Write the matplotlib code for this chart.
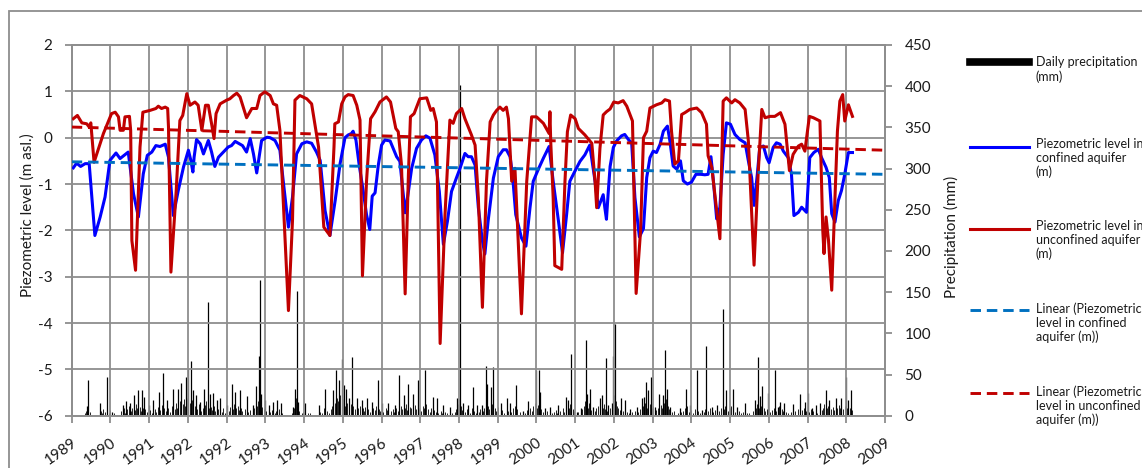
import numpy as np
import matplotlib.pyplot as plt
from matplotlib.lines import Line2D
from matplotlib.patches import Rectangle

plt.rcParams['font.family'] = ['Lato', 'DejaVu Sans']
plt.rcParams['axes.unicode_minus'] = False

# ---- data (decimal years on the chart's time axis) ----
x_labels = ['1989', '1990', '1991', '1992', '1992', '1993', '1994', '1995', '1996', '1997', '1998',
            '1999', '2000', '2001', '2002', '2003', '2004', '2005', '2006', '2007', '2008', '2009']

# piezometric level, unconfined aquifer (m asl.)
unconfined = [
    (1989.04, 0.41), (1989.14, 0.48), (1989.25, 0.32), (1989.37, 0.30), (1989.43, 0.23), (1989.47, 0.32),
    (1989.55, -0.53), (1989.78, 0.09), (1989.98, 0.52), (1990.07, 0.55), (1990.15, 0.45), (1990.19, 0.16),
    (1990.27, 0.16), (1990.31, 0.45), (1990.42, 0.46), (1990.45, 0.16), (1990.48, -2.22), (1990.57, -2.86),
    (1990.68, -0.20), (1990.75, 0.55), (1990.93, 0.59), (1991.07, 0.63), (1991.13, 0.68), (1991.21, 0.63),
    (1991.30, 0.66), (1991.36, 0.63), (1991.38, 0.23), (1991.44, -2.90), (1991.57, -1.14), (1991.66, 0.37),
    (1991.73, 0.48), (1991.83, 0.95), (1991.91, 0.70), (1992.03, 0.77), (1992.11, 0.70), (1992.20, 0.16),
    (1992.29, 0.70), (1992.36, 0.70), (1992.44, 0.30), (1992.50, -0.02), (1992.55, 0.52), (1992.65, 0.73),
    (1992.81, 0.81), (1992.89, 0.84), (1992.98, 0.91), (1993.06, 0.96), (1993.14, 0.88), (1993.30, 0.43),
    (1993.43, 0.63), (1993.55, 0.63), (1993.63, 0.91), (1993.75, 0.99), (1993.88, 0.91), (1993.96, 0.73),
    (1994.04, 0.70), (1994.12, 0.16), (1994.25, -2.22), (1994.33, -3.73), (1994.43, -1.78), (1994.49, 0.81),
    (1994.61, 0.91), (1994.78, 0.84), (1994.90, 0.73), (1995.07, -0.20), (1995.20, -1.93), (1995.35, -2.11),
    (1995.45, -0.20), (1995.47, 0.30), (1995.56, 0.34), (1995.64, 0.73), (1995.72, 0.88), (1995.80, 0.93),
    (1995.92, 0.91), (1996.01, 0.70), (1996.09, 0.38), (1996.15, -2.98), (1996.25, -0.94), (1996.35, 0.41),
    (1996.46, 0.56), (1996.58, 0.77), (1996.74, 0.88), (1996.84, 0.77), (1996.97, 0.20), (1997.03, 0.13),
    (1997.11, -0.59), (1997.20, -3.37), (1997.28, -0.80), (1997.33, 0.45), (1997.42, 0.52), (1997.56, 0.84),
    (1997.73, 0.86), (1997.83, 0.59), (1997.89, 0.63), (1997.97, 0.34), (1998.06, -4.44), (1998.18, -1.66),
    (1998.30, 0.38), (1998.38, 0.31), (1998.46, 0.52), (1998.59, 0.63), (1998.67, 0.41), (1998.83, 0.06),
    (1998.92, -0.16), (1999.00, -1.30), (1999.10, -3.66), (1999.20, -0.94), (1999.29, 0.34), (1999.37, 0.49),
    (1999.45, 0.59), (1999.53, 0.66), (1999.61, 0.59), (1999.69, 0.66), (1999.74, 0.41), (1999.82, -0.94),
    (1999.90, -0.66), (2000.06, -3.80), (2000.19, -0.94), (2000.31, 0.45), (2000.43, 0.45), (2000.60, 0.31),
    (2000.74, 0.09), (2000.76, 0.56), (2000.78, -0.09), (2000.84, -1.30), (2000.88, -2.76), (2001.05, -2.84),
    (2001.13, -0.94), (2001.19, 0.13), (2001.27, 0.49), (2001.38, 0.41), (2001.46, 0.20), (2001.62, 0.06),
    (2001.79, -0.12), (2001.87, -0.94), (2001.91, -1.51), (2001.99, -0.23), (2002.07, 0.49), (2002.15, 0.56),
    (2002.24, 0.62), (2002.33, 0.77), (2002.44, 0.75), (2002.56, 0.80), (2002.65, 0.68), (2002.79, 0.36),
    (2002.88, -3.36), (2002.99, -2.00), (2003.06, 0.00), (2003.14, 0.14), (2003.22, 0.64), (2003.38, 0.71),
    (2003.51, 0.75), (2003.59, 0.82), (2003.70, 0.79), (2003.75, 0.14), (2003.83, -0.57), (2003.92, -0.50),
    (2004.00, 0.50), (2004.08, 0.54), (2004.20, 0.61), (2004.37, 0.64), (2004.49, 0.54), (2004.61, 0.29),
    (2004.65, -0.39), (2004.74, -0.64), (2004.94, -2.18), (2005.02, 0.79), (2005.10, 0.86), (2005.23, 0.75),
    (2005.31, 0.82), (2005.43, 0.75), (2005.56, 0.61), (2005.64, -0.07), (2005.78, -2.75), (2005.88, -0.79),
    (2005.97, 0.61), (2006.05, 0.43), (2006.17, 0.46), (2006.29, 0.46), (2006.43, 0.54), (2006.54, 0.29),
    (2006.65, -0.71), (2006.74, -0.36), (2006.87, -0.18), (2006.95, -0.14), (2007.03, -0.29), (2007.14, 0.46),
    (2007.24, 0.43), (2007.40, 0.36), (2007.47, -2.00), (2007.50, -2.50), (2007.55, -1.71), (2007.61, -2.21),
    (2007.69, -3.29), (2007.77, -1.29), (2007.83, 0.14), (2007.89, 0.79), (2007.96, 0.93), (2008.01, 0.36),
    (2008.10, 0.71), (2008.20, 0.46),
]

# piezometric level, confined aquifer (m asl.)
confined = [
    (1989.04, -0.65), (1989.12, -0.55), (1989.22, -0.62), (1989.33, -0.56), (1989.43, -0.56), (1989.57, -2.11),
    (1989.70, -1.71), (1989.82, -1.28), (1989.94, -0.49), (1990.09, -0.33), (1990.19, -0.45), (1990.29, -0.38),
    (1990.39, -0.31), (1990.52, -1.21), (1990.64, -1.71), (1990.76, -0.78), (1990.86, -0.38), (1990.97, -0.31),
    (1991.07, -0.17), (1991.17, -0.19), (1991.30, -0.14), (1991.38, -0.42), (1991.50, -1.68), (1991.62, -1.14),
    (1991.75, -0.63), (1991.87, -0.27), (1991.93, -0.49), (1991.98, -0.74), (1992.01, -0.42), (1992.07, -0.04),
    (1992.16, -0.13), (1992.24, -0.35), (1992.36, -0.06), (1992.44, -0.31), (1992.52, -0.62), (1992.61, -0.42),
    (1992.73, -0.31), (1992.85, -0.20), (1992.93, -0.17), (1993.02, -0.08), (1993.10, -0.12), (1993.20, -0.17),
    (1993.30, -0.31), (1993.39, -0.02), (1993.47, -0.35), (1993.55, -0.76), (1993.67, -0.06), (1993.80, 0.01),
    (1993.88, 0.00), (1994.00, -0.06), (1994.12, -0.27), (1994.20, -0.92), (1994.33, -1.93), (1994.43, -1.28),
    (1994.53, -0.35), (1994.66, -0.13), (1994.78, -0.09), (1994.90, -0.12), (1995.02, -0.31), (1995.11, -0.49),
    (1995.23, -1.57), (1995.35, -2.11), (1995.48, -1.35), (1995.60, -0.56), (1995.72, 0.00), (1995.80, 0.06),
    (1995.88, 0.09), (1995.92, 0.14), (1995.99, -0.05), (1996.07, -0.59), (1996.17, -1.16), (1996.25, -1.66),
    (1996.33, -1.98), (1996.39, -1.26), (1996.46, -1.19), (1996.54, -0.59), (1996.62, -0.16), (1996.70, -0.05),
    (1996.83, -0.07), (1996.92, -0.26), (1996.99, -0.41), (1997.07, -0.51), (1997.20, -1.62), (1997.28, -1.16),
    (1997.36, -0.66), (1997.48, -0.23), (1997.60, -0.05), (1997.71, 0.04), (1997.81, -0.01), (1997.93, -0.37),
    (1998.04, -1.16), (1998.14, -2.30), (1998.24, -1.80), (1998.34, -1.16), (1998.46, -0.87), (1998.55, -0.66),
    (1998.67, -0.34), (1998.75, -0.41), (1998.83, -0.41), (1998.92, -0.59), (1999.00, -1.51), (1999.10, -2.23),
    (1999.16, -2.51), (1999.24, -1.80), (1999.37, -0.87), (1999.49, -0.41), (1999.61, -0.26), (1999.69, -0.26),
    (1999.78, -0.41), (1999.84, -0.80), (1999.92, -1.66), (2000.06, -2.16), (2000.17, -2.34), (2000.27, -1.51),
    (2000.35, -0.94), (2000.47, -0.69), (2000.60, -0.44), (2000.74, -0.19), (2000.84, -0.94), (2000.97, -1.80),
    (2001.07, -2.48), (2001.17, -1.66), (2001.25, -0.94), (2001.37, -0.73), (2001.50, -0.51), (2001.62, -0.37),
    (2001.74, -0.16), (2001.87, -0.94), (2001.95, -1.51), (2002.01, -1.37), (2002.07, -1.23), (2002.11, -1.51),
    (2002.15, -1.76), (2002.19, -1.23), (2002.24, -0.62), (2002.32, -0.21), (2002.40, -0.07), (2002.52, 0.04),
    (2002.60, 0.07), (2002.69, -0.04), (2002.77, -0.11), (2002.85, -1.29), (2002.96, -2.14), (2003.06, -1.96),
    (2003.14, -0.86), (2003.22, -0.43), (2003.30, -0.29), (2003.38, -0.32), (2003.47, -0.14), (2003.55, 0.14),
    (2003.65, 0.25), (2003.71, -0.07), (2003.79, -0.61), (2003.88, -0.68), (2003.97, -0.50), (2004.04, -0.93),
    (2004.14, -1.00), (2004.24, -0.96), (2004.35, -0.79), (2004.47, -0.79), (2004.57, -0.80), (2004.65, -0.79),
    (2004.72, -0.41), (2004.78, -0.93), (2004.86, -1.75), (2004.94, -1.50), (2005.02, -0.36), (2005.10, 0.32),
    (2005.20, 0.29), (2005.31, 0.07), (2005.43, -0.04), (2005.56, -0.11), (2005.64, -0.50), (2005.72, -0.86),
    (2005.78, -1.46), (2005.86, -0.79), (2005.92, -0.21), (2006.01, -0.18), (2006.09, -0.43), (2006.15, -0.54),
    (2006.25, -0.21), (2006.33, -0.11), (2006.42, -0.14), (2006.50, -0.29), (2006.62, -0.43), (2006.70, -0.79),
    (2006.76, -1.68), (2006.87, -1.61), (2006.95, -1.50), (2007.07, -1.61), (2007.15, -0.43), (2007.25, -0.32),
    (2007.36, -0.25), (2007.44, -0.43), (2007.55, -0.64), (2007.63, -0.86), (2007.69, -1.64), (2007.77, -1.82),
    (2007.85, -1.36), (2007.93, -1.14), (2008.01, -0.79), (2008.10, -0.32), (2008.20, -0.32),
]

# linear trendlines, value at start and end of the axis
trend_years = [1989.0, 2009.0]
trend_confined = [-0.52, -0.79]
trend_unconfined = [0.23, -0.27]

# daily precipitation (mm), larger events
rain_events = [
    (1989.37, 12), (1989.41, 44), (1989.70, 15), (1989.86, 47), (1989.98, 5), (1990.25, 13), (1990.34, 18),
    (1990.43, 15), (1990.52, 25), (1990.64, 31), (1990.72, 31), (1990.78, 23), (1990.89, 13), (1991.01, 19),
    (1991.15, 29), (1991.25, 52), (1991.35, 19), (1991.50, 32), (1991.62, 33), (1991.70, 40), (1991.81, 47),
    (1991.87, 58), (1991.93, 66), (1991.98, 31), (1992.06, 25), (1992.16, 17), (1992.26, 32), (1992.34, 138),
    (1992.39, 27), (1992.47, 28), (1992.57, 19), (1992.65, 21), (1992.81, 13), (1992.93, 39), (1993.02, 29),
    (1993.14, 31), (1993.30, 24), (1993.45, 13), (1993.53, 36), (1993.61, 72), (1993.63, 165), (1993.66, 27),
    (1993.75, 19), (1993.84, 13), (1993.96, 17), (1994.06, 19), (1994.14, 15), (1994.45, 11), (1994.49, 33),
    (1994.54, 151), (1994.57, 17), (1994.74, 15), (1995.07, 13), (1995.23, 32), (1995.43, 31), (1995.50, 56),
    (1995.58, 43), (1995.64, 69), (1995.70, 37), (1995.75, 33), (1995.83, 21), (1995.89, 71), (1996.01, 21),
    (1996.13, 19), (1996.25, 21), (1996.38, 17), (1996.52, 44), (1996.62, 15), (1996.79, 15), (1996.95, 13),
    (1997.06, 50), (1997.16, 25), (1997.28, 39), (1997.39, 27), (1997.52, 43), (1997.69, 56), (1997.88, 23),
    (1997.98, 21), (1998.14, 13), (1998.30, 11), (1998.48, 22), (1998.55, 401), (1998.63, 15), (1998.75, 13),
    (1998.86, 35), (1998.96, 13), (1999.08, 13), (1999.19, 60), (1999.22, 39), (1999.30, 35), (1999.37, 59),
    (1999.55, 16), (1999.71, 21), (1999.78, 15), (1999.92, 37), (2000.11, 6), (2000.23, 18), (2000.42, 55),
    (2000.50, 56), (2000.52, 29), (2000.64, 9), (2000.75, 11), (2000.97, 13), (2001.15, 23), (2001.20, 19),
    (2001.29, 75), (2001.42, 5), (2001.52, 9), (2001.65, 92), (2001.68, 26), (2001.75, 32), (2001.83, 11),
    (2001.98, 21), (2002.03, 25), (2002.14, 70), (2002.20, 13), (2002.28, 15), (2002.32, 72), (2002.36, 112),
    (2002.52, 21), (2002.61, 19), (2002.73, 8), (2002.89, 11), (2003.02, 21), (2003.07, 23), (2003.12, 41),
    (2003.18, 31), (2003.24, 47), (2003.34, 11), (2003.45, 27), (2003.53, 25), (2003.59, 80), (2003.63, 33),
    (2003.71, 11), (2003.96, 9), (2004.11, 32), (2004.20, 13), (2004.37, 56), (2004.49, 7), (2004.61, 85),
    (2004.74, 11), (2004.88, 13), (2005.01, 130), (2005.09, 31), (2005.27, 32), (2005.35, 11), (2005.56, 15),
    (2005.80, 19), (2005.88, 71), (2005.93, 24), (2005.98, 36), (2006.13, 28), (2006.29, 56), (2006.38, 11),
    (2006.43, 17), (2006.52, 16), (2006.74, 14), (2006.91, 27), (2007.03, 17), (2007.11, 28), (2007.20, 9),
    (2007.30, 13), (2007.40, 15), (2007.55, 31), (2007.63, 19), (2007.79, 21), (2007.93, 21), (2008.04, 47),
    (2008.10, 19), (2008.16, 31),
]

# daily precipitation (mm), light rain days
light_rain = [
    (1989.32, 4), (1989.35, 6), (1989.39, 3), (1989.45, 5), (1989.72, 6), (1989.75, 3), (1989.78, 8),
    (1989.83, 5), (1989.88, 10), (1989.91, 4), (1989.95, 7),
    (1990.05, 3), (1990.22, 6), (1990.28, 9), (1990.30, 4), (1990.37, 8), (1990.40, 12), (1990.46, 6),
    (1990.49, 10), (1990.55, 7), (1990.58, 14), (1990.61, 9), (1990.67, 11), (1990.70, 6), (1990.75, 10),
    (1990.81, 8), (1990.85, 5), (1990.93, 7), (1990.97, 4),
    (1991.04, 8), (1991.08, 5), (1991.12, 11), (1991.18, 7), (1991.21, 13), (1991.28, 9), (1991.31, 6),
    (1991.38, 10), (1991.42, 5), (1991.46, 12), (1991.53, 8), (1991.57, 15), (1991.60, 10), (1991.66, 18),
    (1991.73, 14), (1991.76, 20), (1991.79, 12), (1991.84, 22), (1991.90, 16), (1991.95, 19),
    (1992.02, 12), (1992.09, 8), (1992.12, 14), (1992.19, 6), (1992.22, 10), (1992.29, 13), (1992.31, 18),
    (1992.37, 9), (1992.42, 11), (1992.44, 7), (1992.50, 12), (1992.53, 6), (1992.60, 8), (1992.69, 5),
    (1992.73, 9), (1992.77, 4), (1992.86, 6), (1992.90, 11), (1992.96, 8), (1992.99, 14),
    (1993.05, 9), (1993.08, 12), (1993.11, 7), (1993.17, 10), (1993.20, 6), (1993.25, 8), (1993.34, 5),
    (1993.38, 7), (1993.49, 9), (1993.56, 12), (1993.59, 18), (1993.69, 11), (1993.72, 8), (1993.79, 6),
    (1993.88, 5), (1993.92, 7), (1993.99, 4),
    (1994.02, 6), (1994.09, 8), (1994.11, 5), (1994.18, 3), (1994.41, 4), (1994.47, 9), (1994.51, 22),
    (1994.52, 14), (1994.56, 10), (1994.60, 6), (1994.66, 4), (1994.70, 5), (1994.80, 3), (1994.86, 4),
    (1995.11, 5), (1995.15, 3), (1995.20, 9), (1995.27, 6), (1995.33, 4), (1995.38, 8), (1995.41, 12),
    (1995.47, 15), (1995.52, 22), (1995.55, 18), (1995.61, 25), (1995.66, 20), (1995.68, 15), (1995.73, 12),
    (1995.78, 16), (1995.81, 10), (1995.86, 14), (1995.92, 12), (1995.96, 8),
    (1996.04, 10), (1996.08, 7), (1996.10, 12), (1996.16, 9), (1996.20, 6), (1996.22, 11), (1996.29, 8),
    (1996.33, 5), (1996.42, 10), (1996.46, 7), (1996.49, 12), (1996.56, 8), (1996.59, 6), (1996.66, 5),
    (1996.72, 9), (1996.76, 7), (1996.84, 6), (1996.89, 8), (1996.92, 5), (1996.98, 10),
    (1997.02, 6), (1997.09, 12), (1997.12, 8), (1997.19, 10), (1997.22, 14), (1997.25, 7), (1997.31, 11),
    (1997.35, 9), (1997.43, 13), (1997.47, 8), (1997.55, 10), (1997.58, 6), (1997.63, 12), (1997.66, 9),
    (1997.72, 14), (1997.75, 8), (1997.80, 5), (1997.84, 9), (1997.92, 7), (1997.95, 5),
    (1998.02, 4), (1998.08, 6), (1998.11, 3), (1998.18, 5), (1998.23, 4), (1998.35, 3), (1998.42, 5),
    (1998.45, 8), (1998.51, 14), (1998.53, 20), (1998.58, 12), (1998.60, 7), (1998.68, 5), (1998.72, 8),
    (1998.80, 4), (1998.84, 9), (1998.89, 6), (1998.93, 4),
    (1999.02, 5), (1999.05, 8), (1999.12, 6), (1999.15, 10), (1999.24, 12), (1999.27, 8), (1999.33, 14),
    (1999.40, 9), (1999.44, 6), (1999.48, 11), (1999.59, 7), (1999.63, 4), (1999.74, 6), (1999.81, 5),
    (1999.86, 9), (1999.89, 12), (1999.95, 8),
    (2000.02, 5), (2000.15, 4), (2000.19, 7), (2000.27, 9), (2000.31, 6), (2000.35, 12), (2000.39, 15),
    (2000.45, 10), (2000.47, 13), (2000.55, 8), (2000.58, 5), (2000.68, 6), (2000.80, 4), (2000.86, 5),
    (2000.91, 7), (2000.94, 4),
    (2001.02, 6), (2001.07, 9), (2001.10, 5), (2001.24, 10), (2001.26, 14), (2001.32, 8), (2001.36, 6),
    (2001.45, 5), (2001.55, 8), (2001.59, 12), (2001.62, 18), (2001.70, 10), (2001.72, 15), (2001.78, 7),
    (2001.87, 6), (2001.90, 9), (2001.94, 12),
    (2002.06, 10), (2002.09, 14), (2002.11, 8), (2002.17, 6), (2002.24, 9), (2002.33, 25), (2002.38, 18),
    (2002.41, 12), (2002.44, 9), (2002.48, 7), (2002.56, 6), (2002.65, 5), (2002.70, 4), (2002.78, 5),
    (2002.84, 6), (2002.93, 5), (2002.97, 8),
    (2003.04, 12), (2003.10, 15), (2003.14, 10), (2003.21, 14), (2003.27, 9), (2003.30, 12), (2003.38, 7),
    (2003.42, 10), (2003.48, 13), (2003.51, 9), (2003.56, 15), (2003.61, 20), (2003.66, 12), (2003.68, 8),
    (2003.75, 5), (2003.80, 6), (2003.91, 4), (2003.99, 5),
    (2004.04, 6), (2004.08, 9), (2004.14, 12), (2004.17, 5), (2004.24, 7), (2004.28, 4), (2004.33, 8),
    (2004.41, 6), (2004.46, 4), (2004.54, 5), (2004.58, 8), (2004.65, 6), (2004.69, 9), (2004.78, 5),
    (2004.82, 7), (2004.92, 6), (2004.97, 10),
    (2005.04, 8), (2005.06, 12), (2005.13, 6), (2005.18, 9), (2005.22, 12), (2005.25, 7), (2005.31, 5),
    (2005.40, 6), (2005.45, 4), (2005.50, 5), (2005.60, 4), (2005.66, 3), (2005.76, 6), (2005.84, 9),
    (2005.86, 14), (2005.90, 10), (2005.95, 12),
    (2006.02, 9), (2006.06, 6), (2006.10, 8), (2006.17, 5), (2006.22, 7), (2006.26, 10), (2006.33, 6),
    (2006.36, 9), (2006.40, 12), (2006.46, 8), (2006.49, 6), (2006.56, 5), (2006.62, 4), (2006.70, 5),
    (2006.79, 6), (2006.86, 8), (2006.95, 7),
    (2007.00, 10), (2007.06, 6), (2007.14, 5), (2007.17, 8), (2007.24, 6), (2007.34, 4), (2007.44, 7),
    (2007.48, 10), (2007.51, 14), (2007.58, 9), (2007.61, 12), (2007.67, 8), (2007.71, 11), (2007.75, 7),
    (2007.82, 9), (2007.86, 13), (2007.89, 10), (2007.97, 8),
    (2008.01, 12), (2008.06, 10), (2008.08, 15), (2008.13, 9), (2008.18, 7),
]

labels = ['Daily precipitation\n(mm)',
          'Piezometric level in\nconfined aquifer\n(m)',
          'Piezometric level in\nunconfined aquifer\n(m)',
          'Linear (Piezometric\nlevel in confined\naquifer (m))',
          'Linear (Piezometric\nlevel in unconfined\naquifer (m))']

# ---- figure ----
W, H = 1142, 468
grid_c = '#8e8e8e'
red = '#c00000'
blue = '#0000ff'
blue_tr = '#0070c0'

fig = plt.figure(figsize=(W / 100, H / 100), dpi=100)
x0, x1, ytop, ybot = 71.7, 885.0, 45.0, 415.8
ax = fig.add_axes([x0 / W, 1 - ybot / H, (x1 - x0) / W, (ybot - ytop) / H])
ax2 = ax.twinx()
ax.set_zorder(ax2.get_zorder() + 1)
ax.patch.set_visible(False)

# precipitation on secondary axis
rt, rmm = np.array(light_rain).T
ax2.vlines(rt, 0, rmm, color='#222222', lw=0.7)
rt, rmm = np.array(rain_events).T
ax2.vlines(rt, 0, rmm, color='black', lw=0.9)
ax2.set_ylim(0, 450)
ax2.set_yticks(np.arange(0, 451, 50))

# piezometric levels
t, v = np.array(confined).T
ax.plot(t, v, color=blue, lw=2.2, zorder=3)
t, v = np.array(unconfined).T
ax.plot(t, v, color=red, lw=2.2, zorder=4)
ax.plot(trend_years, trend_confined, color=blue_tr, lw=2.1, dashes=(3.6, 2.0), zorder=5)
ax.plot(trend_years, trend_unconfined, color=red, lw=2.1, dashes=(3.6, 2.0), zorder=5)

ax.set_xlim(1989, 2009)
ax.set_ylim(-6, 2)
ax.set_yticks(np.arange(-6, 2.1, 1))
ax.set_xticks(np.linspace(1989, 2009, len(x_labels)))
ax.set_xticklabels(x_labels, rotation=35, ha='right', va='top', rotation_mode='anchor')
ax.grid(True, color=grid_c, lw=1.3, zorder=0)

for a in (ax, ax2):
    for s in a.spines.values():
        s.set_color(grid_c)
        s.set_linewidth(1.3)
    a.tick_params(axis='both', direction='out', length=5, width=1.3, color=grid_c,
                  labelsize=11, labelcolor='#1a1a1a')
ax.tick_params(axis='y', pad=9)
ax.tick_params(axis='x', pad=9)
ax2.tick_params(axis='y', pad=9)

ax.set_ylabel('Piezometric level (m asl.)', fontsize=11, color='#1a1a1a')
ax.yaxis.label.set_va('center')
ax.yaxis.set_label_coords((28 - x0) / (x1 - x0), (ybot - 215) / (ybot - ytop))
ax2.set_ylabel('Precipitation (mm)', fontsize=11, color='#1a1a1a', rotation=90)
ax2.yaxis.label.set_va('center')
ax2.yaxis.set_label_coords((951 - x0) / (x1 - x0), (ybot - 237) / (ybot - ytop))

# legend drawn at the right, as in the spreadsheet layout
handles = [dict(color='black', lw=5.5),
           dict(color=blue, lw=2.2),
           dict(color=red, lw=2.2),
           dict(color=blue_tr, lw=2.1, dashes=(3.6, 2.0)),
           dict(color=red, lw=2.1, dashes=(3.6, 2.0))]
handle_y = [62, 147, 229, 310, 393]
text_y = [65, 147, 229, 311, 394]
for hs, hy, ty, lab in zip(handles, handle_y, text_y, labels):
    fig.add_artist(Line2D([970 / W, 1029 / W], [1 - hy / H] * 2, transform=fig.transFigure, **hs))
    fig.text(1036 / W, 1 - (ty - 8.5) / H, lab, fontsize=9, va='top', ha='left',
             color='#1a1a1a', linespacing=1.15)

# chart area border
fig.add_artist(Rectangle((9 / W, -0.2), 1.2, 1.2 - 11 / H, transform=fig.transFigure,
                         fill=False, edgecolor=grid_c, lw=1.3, clip_on=False))

fig.savefig('out.png', dpi=100)
